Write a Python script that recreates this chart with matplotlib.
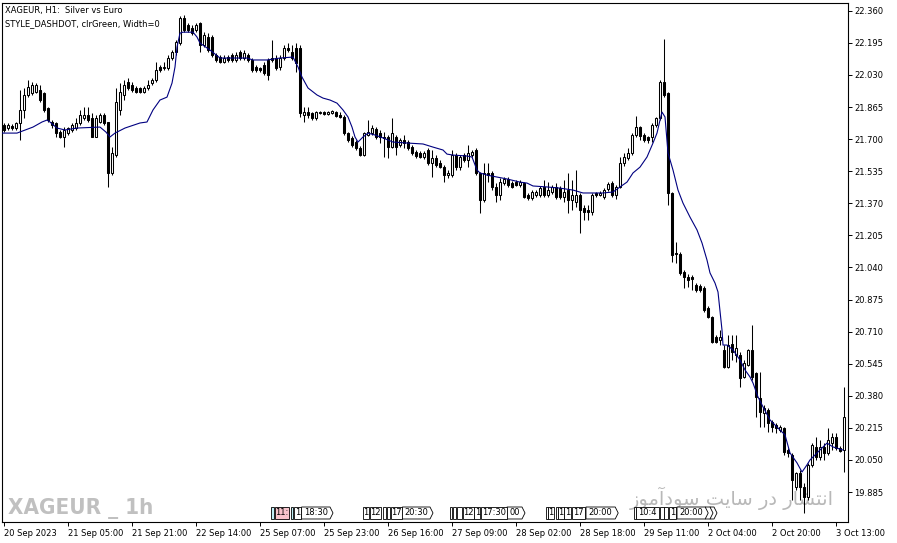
import matplotlib
matplotlib.use("Agg")
import matplotlib.pyplot as plt
import numpy as np
from matplotlib.patches import Polygon

# XAGEUR H1 candles, 20 Sep 2023 13:00 -> 3 Oct 2023
opens = [
    21.772, 21.757, 21.767, 21.757, 21.783, 21.850, 21.927, 21.937, 21.942, 21.952,
    21.937, 21.860, 21.788, 21.783, 21.736, 21.711, 21.731, 21.747, 21.757, 21.783,
    21.808, 21.824, 21.808, 21.711, 21.788, 21.824, 21.788, 21.526, 21.618, 21.850,
    21.927, 21.993, 21.978, 21.963, 21.963, 21.942, 21.963, 21.988, 22.004, 22.071,
    22.065, 22.065, 22.117, 22.148, 22.194, 22.322, 22.286, 22.271, 22.261, 22.297,
    22.184, 22.225, 22.225, 22.132, 22.122, 22.096, 22.122, 22.132, 22.107, 22.148,
    22.117, 22.132, 22.107, 22.071, 22.065, 22.081, 22.107, 22.117, 22.117, 22.071,
    22.117, 22.168, 22.148, 22.168, 22.168, 21.824, 21.839, 21.834, 21.808, 21.834,
    21.839, 21.829, 21.834, 21.839, 21.824, 21.814, 21.731, 21.706, 21.685, 21.654,
    21.618, 21.721, 21.731, 21.752, 21.731, 21.711, 21.711, 21.659, 21.711, 21.670,
    21.695, 21.685, 21.659, 21.634, 21.629, 21.608, 21.644, 21.577, 21.603, 21.577,
    21.556, 21.515, 21.515, 21.618, 21.556, 21.618, 21.592, 21.618, 21.644, 21.526,
    21.387, 21.526, 21.526, 21.454, 21.413, 21.474, 21.495, 21.474, 21.479, 21.464,
    21.474, 21.413, 21.397, 21.413, 21.413, 21.454, 21.413, 21.428, 21.454, 21.448,
    21.402, 21.438, 21.387, 21.376, 21.413, 21.346, 21.335, 21.325, 21.423, 21.413,
    21.402, 21.443, 21.474, 21.413, 21.454, 21.577, 21.603, 21.629, 21.721, 21.762,
    21.721, 21.711, 21.711, 21.772, 21.808, 21.993, 21.937, 21.423, 21.114, 21.109,
    21.017, 20.991, 20.991, 20.950, 20.945, 20.934, 20.832, 20.785, 20.682, 20.667,
    20.616, 20.528, 20.647, 20.590, 20.590, 20.477, 20.539, 20.616, 20.497, 20.369,
    20.292, 20.307, 20.245, 20.230, 20.204, 20.215, 20.101, 20.076, 19.911, 19.983,
    19.911, 19.860, 20.025, 20.117, 20.066, 20.117, 20.086, 20.137, 20.168, 20.112,
    20.101,
]
highs = [
    21.783, 21.783, 21.778, 21.788, 21.952, 21.963, 22.004, 21.993, 21.988, 21.978,
    21.942, 21.865, 21.798, 21.788, 21.747, 21.762, 21.762, 21.783, 21.808, 21.850,
    21.865, 21.865, 21.834, 21.824, 21.834, 21.834, 21.788, 21.659, 21.963, 21.988,
    22.004, 22.014, 21.993, 21.973, 21.968, 21.973, 22.004, 22.014, 22.096, 22.081,
    22.096, 22.132, 22.158, 22.209, 22.333, 22.338, 22.297, 22.286, 22.297, 22.302,
    22.250, 22.245, 22.235, 22.143, 22.132, 22.132, 22.132, 22.143, 22.148, 22.158,
    22.158, 22.143, 22.117, 22.081, 22.071, 22.096, 22.117, 22.209, 22.132, 22.132,
    22.184, 22.194, 22.184, 22.194, 22.184, 21.865, 21.865, 21.839, 21.844, 21.844,
    21.844, 21.844, 21.850, 21.844, 21.839, 21.824, 21.736, 21.716, 21.695, 21.664,
    21.736, 21.798, 21.772, 21.762, 21.747, 21.736, 21.721, 21.808, 21.721, 21.706,
    21.721, 21.695, 21.670, 21.644, 21.639, 21.639, 21.654, 21.644, 21.618, 21.592,
    21.567, 21.541, 21.644, 21.629, 21.618, 21.629, 21.670, 21.644, 21.654, 21.531,
    21.577, 21.577, 21.536, 21.474, 21.500, 21.505, 21.505, 21.485, 21.490, 21.490,
    21.479, 21.423, 21.438, 21.438, 21.459, 21.490, 21.479, 21.464, 21.474, 21.459,
    21.490, 21.526, 21.490, 21.541, 21.423, 21.361, 21.361, 21.423, 21.428, 21.433,
    21.448, 21.479, 21.485, 21.464, 21.608, 21.629, 21.654, 21.731, 21.819, 21.767,
    21.731, 21.716, 21.783, 21.814, 22.004, 22.215, 21.942, 21.428, 21.171, 21.119,
    21.027, 21.006, 21.001, 20.960, 20.955, 20.945, 20.842, 20.791, 20.693, 20.718,
    20.641, 20.693, 20.693, 20.693, 20.605, 20.564, 20.621, 20.744, 20.503, 20.503,
    20.333, 20.317, 20.256, 20.240, 20.230, 20.220, 20.112, 20.086, 19.988, 19.999,
    19.932, 20.035, 20.137, 20.168, 20.153, 20.137, 20.215, 20.189, 20.189, 20.122,
    20.425,
]
lows = [
    21.736, 21.747, 21.747, 21.747, 21.695, 21.808, 21.916, 21.927, 21.937, 21.891,
    21.839, 21.788, 21.757, 21.711, 21.706, 21.659, 21.721, 21.736, 21.747, 21.772,
    21.798, 21.788, 21.711, 21.711, 21.783, 21.772, 21.454, 21.515, 21.608, 21.824,
    21.901, 21.952, 21.942, 21.937, 21.937, 21.937, 21.952, 21.978, 21.993, 22.045,
    22.055, 22.055, 22.107, 22.132, 22.184, 22.250, 22.250, 22.235, 22.250, 22.148,
    22.173, 22.148, 22.122, 22.096, 22.091, 22.091, 22.096, 22.096, 22.096, 22.107,
    22.107, 22.096, 22.045, 22.045, 22.045, 22.029, 22.004, 22.096, 22.055, 22.055,
    22.107, 22.148, 22.107, 22.045, 21.814, 21.788, 21.808, 21.798, 21.798, 21.829,
    21.824, 21.824, 21.829, 21.814, 21.808, 21.721, 21.685, 21.659, 21.644, 21.613,
    21.613, 21.716, 21.721, 21.700, 21.680, 21.608, 21.603, 21.654, 21.618, 21.659,
    21.654, 21.644, 21.618, 21.603, 21.603, 21.598, 21.567, 21.505, 21.556, 21.551,
    21.479, 21.500, 21.505, 21.541, 21.541, 21.582, 21.556, 21.608, 21.515, 21.320,
    21.376, 21.479, 21.438, 21.376, 21.387, 21.464, 21.454, 21.448, 21.459, 21.454,
    21.397, 21.387, 21.387, 21.402, 21.402, 21.402, 21.402, 21.418, 21.392, 21.392,
    21.376, 21.320, 21.335, 21.351, 21.217, 21.284, 21.284, 21.310, 21.402, 21.407,
    21.392, 21.433, 21.402, 21.392, 21.448, 21.561, 21.592, 21.618, 21.711, 21.695,
    21.685, 21.680, 21.685, 21.762, 21.798, 21.916, 21.361, 21.068, 21.063, 21.001,
    20.934, 20.940, 20.924, 20.914, 20.914, 20.811, 20.780, 20.652, 20.652, 20.641,
    20.523, 20.523, 20.564, 20.554, 20.425, 20.472, 20.533, 20.461, 20.271, 20.220,
    20.220, 20.194, 20.194, 20.189, 20.194, 20.076, 20.066, 19.844, 19.896, 19.844,
    19.778, 19.844, 20.014, 20.050, 20.050, 20.050, 20.076, 20.101, 20.101, 20.091,
    19.988,
]
closes = [
    21.747, 21.772, 21.757, 21.783, 21.850, 21.927, 21.968, 21.978, 21.978, 21.901,
    21.850, 21.798, 21.772, 21.731, 21.711, 21.747, 21.757, 21.772, 21.783, 21.824,
    21.824, 21.798, 21.711, 21.808, 21.824, 21.783, 21.526, 21.629, 21.891, 21.942,
    21.978, 21.963, 21.952, 21.942, 21.942, 21.963, 21.978, 22.004, 22.055, 22.055,
    22.071, 22.117, 22.148, 22.199, 22.322, 22.261, 22.261, 22.245, 22.286, 22.184,
    22.235, 22.158, 22.132, 22.107, 22.096, 22.117, 22.107, 22.107, 22.132, 22.117,
    22.143, 22.107, 22.055, 22.055, 22.055, 22.040, 22.029, 22.107, 22.065, 22.117,
    22.168, 22.158, 22.117, 22.091, 21.834, 21.839, 21.824, 21.808, 21.839, 21.839,
    21.829, 21.839, 21.844, 21.819, 21.814, 21.731, 21.695, 21.670, 21.654, 21.618,
    21.731, 21.736, 21.757, 21.711, 21.711, 21.706, 21.659, 21.731, 21.659, 21.695,
    21.680, 21.654, 21.629, 21.613, 21.608, 21.629, 21.577, 21.603, 21.567, 21.556,
    21.515, 21.526, 21.618, 21.556, 21.608, 21.592, 21.629, 21.634, 21.526, 21.387,
    21.526, 21.515, 21.454, 21.413, 21.479, 21.495, 21.464, 21.454, 21.464, 21.479,
    21.402, 21.397, 21.428, 21.428, 21.448, 21.413, 21.438, 21.454, 21.402, 21.402,
    21.428, 21.387, 21.413, 21.413, 21.335, 21.325, 21.325, 21.413, 21.413, 21.423,
    21.438, 21.469, 21.413, 21.454, 21.577, 21.608, 21.629, 21.721, 21.762, 21.716,
    21.695, 21.695, 21.772, 21.808, 21.993, 21.927, 21.423, 21.104, 21.109, 21.012,
    20.991, 20.975, 20.981, 20.924, 20.924, 20.821, 20.785, 20.657, 20.657, 20.682,
    20.528, 20.641, 20.605, 20.626, 20.472, 20.549, 20.616, 20.477, 20.374, 20.297,
    20.317, 20.240, 20.220, 20.215, 20.220, 20.091, 20.086, 19.947, 19.983, 19.911,
    19.860, 20.025, 20.127, 20.066, 20.117, 20.086, 20.153, 20.168, 20.112, 20.096,
    20.271,
]

# moving average line, read at bar positions
ma_pos = [
    -1.0, 3.25, 7.25, 9.5, 10.75, 11.5, 13.25, 15.25, 18.25, 24.0,
    25.5, 26.5, 27.75, 30.25, 34.0, 35.75, 37.25, 39.0, 40.75, 42.0,
    42.75, 43.25, 44.0, 44.75, 47.25, 48.25, 49.0, 51.5, 54.0, 57.25,
    60.75, 62.25, 65.75, 69.0, 72.25, 73.5, 74.5, 76.0, 78.25, 79.75,
    81.5, 83.25, 84.75, 86.0, 87.0, 87.75, 88.5, 89.75, 91.0, 92.75,
    94.75, 97.25, 100.75, 104.75, 107.25, 109.75, 110.75, 112.25, 115.75, 117.0,
    118.25, 119.0, 120.75, 123.25, 125.75, 129.0, 130.75, 132.25, 135.75, 139.0,
    142.25, 144.75, 147.25, 149.75, 152.25, 154.0, 155.75, 157.25, 159.0, 160.75,
    162.25, 163.25, 164.0, 164.5, 165.25, 166.0, 167.25, 168.5, 169.75, 171.5,
    173.25, 174.5, 175.75, 176.5, 177.75, 178.5, 179.5, 179.75, 180.75, 182.25,
    184.0, 185.25, 186.5, 187.25, 188.5, 189.75, 191.5, 194.0, 195.25, 196.5,
    198.25, 199.5, 200.75, 201.5, 203.25, 205.75, 207.25, 209.75,
]
ma_val = [
    21.731, 21.731, 21.762, 21.788, 21.798, 21.788, 21.757, 21.747, 21.757, 21.762,
    21.736, 21.711, 21.731, 21.757, 21.783, 21.788, 21.850, 21.901, 21.916, 21.988,
    22.071, 22.173, 22.245, 22.250, 22.250, 22.225, 22.194, 22.158, 22.117, 22.117,
    22.117, 22.107, 22.107, 22.117, 22.122, 22.071, 22.019, 21.963, 21.927, 21.911,
    21.901, 21.885, 21.850, 21.814, 21.762, 21.711, 21.685, 21.711, 21.731, 21.721,
    21.706, 21.685, 21.680, 21.675, 21.659, 21.644, 21.623, 21.618, 21.613, 21.608,
    21.541, 21.526, 21.515, 21.505, 21.495, 21.479, 21.474, 21.459, 21.454, 21.448,
    21.438, 21.423, 21.423, 21.423, 21.428, 21.454, 21.479, 21.526, 21.556, 21.608,
    21.680, 21.731, 21.798, 21.839, 21.814, 21.629, 21.541, 21.438, 21.371, 21.299,
    21.233, 21.166, 21.078, 21.012, 20.960, 20.914, 20.718, 20.641, 20.641, 20.616,
    20.564, 20.513, 20.477, 20.446, 20.374, 20.323, 20.256, 20.204, 20.179, 20.086,
    20.035, 19.988, 20.025, 20.050, 20.086, 20.137, 20.117, 20.101,
]

price_ticks = [22.360, 22.195, 22.030, 21.865, 21.700, 21.535, 21.370, 21.205,
               21.040, 20.875, 20.710, 20.545, 20.380, 20.215, 20.050, 19.885]
time_tick_bars = [0, 16, 32, 48, 64, 80, 96, 112, 128, 144, 160, 176, 192, 208]
time_labels = ["20 Sep 2023", "21 Sep 05:00", "21 Sep 21:00", "22 Sep 14:00",
               "25 Sep 07:00", "25 Sep 23:00", "26 Sep 16:00", "27 Sep 09:00",
               "28 Sep 02:00", "28 Sep 18:00", "29 Sep 11:00", "2 Oct 04:00",
               "2 Oct 20:00", "3 Oct 13:00"]

# economic calendar markers along the bottom (bar positions)
ev_start = [66.7, 67.75, 71.7, 72.5, 74.4,
            89.7, 91.5, 94.7, 95.7, 96.7, 99.6,
            111.4, 112.25, 113.25, 114.75, 117.6, 125.75, 119.3,
            135.6, 136.0, 137.9, 138.4, 140.1, 142.0, 145.5,
            157.4, 158.1, 164.1, 165.1, 166.2, 176.5, 175.3, 168.25]
ev_end = [67.5, 71.25, 72.3, 74.25, 81.5,
          91.3, 94.25, 95.5, 96.5, 99.4, 106.5,
          112.0, 113.1, 114.6, 117.4, 119.1, 129.5, 125.75,
          136.0, 137.6, 138.4, 140.1, 141.75, 145.3, 152.8,
          158.0, 163.7, 164.9, 165.9, 168.1, 177.5, 176.5, 175.3]
ev_text = ["", "11:", "", "1", "18:30",
           "1", "12", "", "", "17", "20:30",
           "", "", "", "12", "1", "00", "17:30",
           "", "1", "", "1", "1", "17", "20:00",
           "", "10:4", "", "", "1", "", "", "20:00"]
ev_fill = ["#bfeff5", "#f7c4cc", "#bfeff5", "white", "white",
           "white", "white", "white", "white", "white", "white",
           "white", "white", "white", "white", "white", "white", "white",
           "white", "white", "white", "white", "white", "white", "white",
           "white", "white", "white", "white", "white", "white", "white", "white"]
ev_arrow = [False, False, False, False, True,
            False, False, False, False, False, True,
            False, False, False, False, False, True, False,
            False, False, False, False, False, False, True,
            False, False, False, False, False, True, True, True]

W, H = 897, 543
fig = plt.figure(figsize=(W / 100, H / 100), dpi=100)
fig.patch.set_facecolor("white")
ax = fig.add_axes([2 / W, 21 / H, 846 / W, 519 / H])
ax.set_facecolor("none")

o = np.array(opens)
h = np.array(highs)
l = np.array(lows)
c = np.array(closes)
idx = np.arange(len(o))
up = c >= o

# wicks
ax.vlines(idx, l, h, color="black", linewidth=0.75, zorder=2)
# bodies
ax.bar(idx[up], c[up] - o[up], bottom=o[up], width=0.55, color="white",
       edgecolor="black", linewidth=0.75, zorder=3)
ax.bar(idx[~up], o[~up] - c[~up], bottom=c[~up], width=0.55, color="black",
       edgecolor="black", linewidth=0.75, zorder=3)

# MA line
ax.plot(ma_pos, ma_val, color="#000080", linewidth=0.8, zorder=4)

ax.set_xlim(-0.5, 211.0)
ax.set_ylim(19.731, 22.400)

# price scale on the right
ax.yaxis.tick_right()
ax.set_yticks(price_ticks)
ax.set_yticklabels([f"{v:.3f}" for v in price_ticks])
ax.tick_params(axis="y", direction="out", length=3, width=0.7, pad=1.5,
               labelsize=6, colors="black")

ax.set_xticks(time_tick_bars)
ax.set_xticklabels(time_labels)
ax.tick_params(axis="x", direction="out", length=3, width=0.7, pad=2,
               labelsize=6, colors="black")
for lab in ax.get_xticklabels():
    lab.set_horizontalalignment("left")

for sp in ax.spines.values():
    sp.set_linewidth(0.8)
    sp.set_color("black")

# calendar event boxes
trans = ax.get_xaxis_transform()
y0, y1 = 0.0058, 0.0289
ym = (y0 + y1) / 2
for s, e, t, f, arr in zip(ev_start, ev_end, ev_text, ev_fill, ev_arrow):
    if arr:
        pts = [(s, y0), (e, y0), (e + 0.75, ym), (e, y1), (s, y1)]
    else:
        pts = [(s, y0), (e, y0), (e, y1), (s, y1)]
    ax.add_patch(Polygon(pts, closed=True, facecolor=f, edgecolor="black",
                         linewidth=0.6, transform=trans, zorder=5, clip_on=False))
    if t:
        ax.text((s + e) / 2, ym, t, transform=trans, fontsize=6, ha="center",
                va="center", zorder=6)

# header texts
fig.text(5 / W, 1 - 10 / H, "XAGEUR, H1:  Silver vs Euro", fontsize=6,
         va="center", ha="left")
fig.text(5 / W, 1 - 24 / H, "STYLE_DASHDOT, clrGreen, Width=0", fontsize=6,
         va="center", ha="left")

# watermarks (behind the candles)
ax.text(8 / W, (H - 514) / H, "XAGEUR _ 1h", transform=fig.transFigure,
        fontsize=16, fontweight="bold", fontstretch="condensed", color="#c0c0c0",
        family=["DejaVu Sans"], ha="left", va="baseline", zorder=0)
fa_text = ("\uFEAF\uFEEE\uFEE3\uFE81\uFEA9\uFEEE\uFEB3 \uFE96\uFBFE\uFE8E\uFEB3 "
           "\uFEAD\uFEA9 \uFEAD\uFE8E\uFEB8\uFE98\uFEE7\uFE8D")
ax.text(834 / W, (H - 505) / H, fa_text, transform=fig.transFigure,
        fontsize=14, color="#b8b8b8", family=["DejaVu Sans"],
        ha="right", va="baseline", zorder=0)

fig.savefig("out.png", dpi=100, facecolor="white")
